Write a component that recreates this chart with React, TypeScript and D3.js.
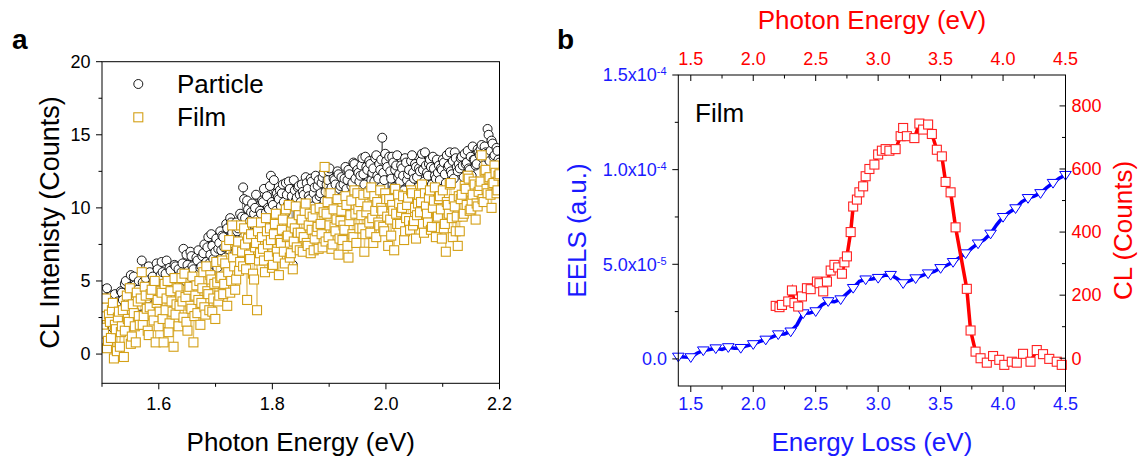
import React from "react";
import * as d3 from "d3";

const W = 1138;
const H = 456;
const FONT = "Arial, 'Liberation Sans', Helvetica, sans-serif";

// ---------- Panel a: CL spectra, particle vs film ----------
// Two interleaved channel sets: even channels start at 1.5 eV, odd ones half a step later.
const energyStart = 1.5; // eV
const energyStep = 0.0035; // eV per channel within one set
const oddOffset = 0.00175; // eV

const particleCounts = [
  3.2, 4.4, 2.1, 3.8, 2.6, 4.0, 3.1, 1.9, 3.6, 2.8,
  4.2, 3.0, 5.0, 3.5, 4.6, 2.9, 5.3, 3.9, 4.4, 3.3,
  6.4, 4.1, 5.2, 3.8, 5.6, 4.5, 5.0, 4.2, 5.8, 4.7,
  6.3, 4.8, 5.5, 4.4, 5.9, 5.1, 4.6, 6.0, 5.3, 4.9,
  5.6, 7.2, 5.0, 6.1, 5.4, 6.7, 5.8, 4.9, 6.4, 5.5,
  6.0, 6.9, 5.6, 7.3, 6.2, 8.2, 6.5, 7.0, 5.9, 7.6,
  7.1, 8.0, 6.6, 8.6, 7.4, 9.0, 7.8, 6.9, 8.4, 7.7,
  8.8, 11.4, 9.3, 10.5, 8.2, 9.7, 8.9, 10.0, 9.2, 8.5,
  9.6, 10.4, 9.0, 10.8, 9.9, 12.2, 10.2, 9.4, 11.0, 10.6,
  10.1, 11.6, 9.6, 10.9, 11.8, 10.3, 6.1, 11.2, 10.7, 11.5,
  10.4, 11.1, 9.9, 11.7, 10.8, 12.0, 10.1, 11.4, 10.6, 11.9,
  11.0, 12.1, 10.5, 11.6, 12.5, 11.2, 10.7, 11.9, 10.9, 12.3,
  11.5, 10.8, 12.0, 11.3, 12.6, 10.9, 11.7, 13.0, 11.1, 12.4,
  12.2, 13.4, 11.6, 12.8, 11.2, 13.0, 12.4, 11.8, 13.6, 12.0,
  12.6, 14.8, 11.9, 13.2, 10.7, 12.5, 13.5, 11.4, 12.9, 12.1,
  11.8, 12.7, 11.2, 13.1, 12.3, 11.6, 13.6, 12.0, 12.8, 11.4,
  12.5, 13.7, 11.8, 12.9, 12.2, 13.3, 11.6, 12.7, 12.0, 12.4,
  11.9, 12.6, 13.1, 11.7, 12.8, 13.8, 12.3, 12.0, 13.4, 12.5,
  12.7, 13.5, 12.1, 13.0, 13.9, 12.6, 12.2, 13.3, 12.9, 14.0,
  13.6, 14.3, 12.9, 13.8, 15.4, 13.2, 14.6, 13.5, 12.8, 13.9,
  13.1,
];

const particleCountsOdd = [
  2.4, 3.6, 4.5, 2.9, 3.3, 1.8, 4.1, 3.4, 2.2, 4.3,
  3.7, 4.8, 2.6, 4.0, 5.4, 3.4, 4.7, 3.1, 5.0, 4.1,
  4.9, 5.5, 3.6, 6.0, 4.4, 5.3, 3.9, 6.2, 4.8, 5.4,
  5.6, 4.3, 6.4, 5.0, 5.7, 4.7, 6.1, 5.2, 5.8, 4.5,
  6.2, 5.3, 6.8, 5.7, 7.0, 6.0, 5.1, 6.6, 7.1, 5.9,
  6.7, 7.5, 6.3, 8.0, 6.8, 7.4, 6.1, 7.9, 7.2, 8.4,
  8.1, 7.3, 8.9, 7.6, 9.3, 8.3, 7.5, 9.0, 8.6, 9.6,
  9.4, 10.6, 8.7, 9.9, 9.1, 10.3, 9.6, 10.9, 8.9, 9.8,
  10.5, 11.3, 9.7, 10.0, 11.5, 10.4, 11.9, 9.8, 10.7, 11.2,
  11.0, 10.4, 11.7, 10.2, 11.3, 10.8, 11.9, 10.5, 11.4, 10.9,
  11.6, 10.9, 12.1, 11.3, 10.6, 11.8, 11.0, 12.2, 11.5, 10.8,
  11.7, 12.4, 11.1, 11.9, 12.7, 11.4, 12.0, 11.6, 12.5, 11.3,
  12.1, 11.6, 12.8, 11.9, 12.3, 11.5, 13.1, 12.0, 12.6, 11.8,
  12.9, 12.3, 13.5, 12.6, 13.2, 11.9, 12.7, 13.4, 12.2, 13.0,
  13.3, 12.4, 13.7, 12.8, 13.5, 12.0, 13.1, 12.6, 13.6, 12.3,
  12.9, 12.2, 13.4, 11.9, 12.6, 13.2, 12.4, 13.0, 12.1, 12.7,
  13.2, 12.6, 13.8, 12.4, 13.0, 12.8, 13.5, 12.2, 13.3, 12.9,
  12.7, 13.3, 12.3, 13.6, 12.9, 12.5, 13.2, 13.8, 12.8, 13.0,
  13.4, 12.9, 13.7, 13.1, 12.7, 13.5, 14.2, 13.3, 13.0, 13.8,
  14.0, 13.4, 14.2, 13.7, 15.0, 13.9, 14.4, 13.6, 14.1, 13.3,
];

const filmCounts = [
  2.6, 1.4, 3.8, 0.9, 2.2, 3.0, -0.3, 1.7, 2.5, 0.5,
  1.9, -0.2, 3.3, 2.4, 4.5, 1.2, 2.8, 0.8, 3.6, 2.0,
  5.6, 2.6, 4.0, 1.6, 3.2, 4.4, 2.3, 0.8, 3.7, 2.9,
  4.2, 0.8, 3.0, 5.0, 2.1, 3.6, 0.5, 2.7, 4.5, 3.3,
  5.2, 2.5, 3.9, 1.6, 4.6, 3.1, 0.8, 4.0, 2.8, 5.0,
  3.5, 5.6, 2.7, 4.3, 3.0, 5.1, 3.8, 2.4, 4.9, 4.0,
  5.3, 4.1, 6.2, 3.3, 7.8, 5.0, 6.6, 4.4, 7.1, 5.7,
  8.8, 6.0, 7.5, 3.7, 6.8, 8.2, 5.5, 7.3, 3.0, 6.4,
  9.0, 7.2, 5.6, 8.4, 6.7, 7.8, 6.1, 8.9, 7.0, 5.4,
  7.6, 9.2, 6.2, 8.0, 10.2, 6.9, 5.8, 8.6, 7.3, 9.5,
  8.3, 7.0, 9.8, 7.6, 8.8, 6.9, 9.4, 7.9, 8.4, 7.2,
  8.9, 7.3, 12.8, 9.6, 8.0, 11.0, 7.5, 8.7, 9.2, 6.8,
  9.1, 7.8, 8.5, 10.2, 6.6, 9.5, 8.2, 11.2, 7.6, 9.9,
  10.4, 8.6, 7.0, 9.7, 11.0, 8.3, 9.3, 10.8, 8.0, 9.0,
  11.2, 9.8, 8.4, 10.6, 7.4, 9.2, 10.2, 7.1, 9.6, 10.9,
  8.9, 10.0, 7.8, 9.3, 10.7, 8.5, 11.0, 9.1, 7.9, 10.3,
  9.7, 11.6, 8.3, 10.1, 9.0, 11.2, 8.7, 10.5, 8.0, 9.4,
  10.8, 7.9, 8.6, 7.0, 10.2, 11.6, 9.3, 10.6, 8.4, 7.4,
  8.4, 10.9, 9.6, 11.3, 12.2, 9.8, 10.5, 11.8, 9.2, 10.1,
  11.5, 13.6, 10.4, 12.6, 11.0, 12.1, 10.0, 11.7, 12.4, 11.2,
  12.3,
];

const filmCountsOdd = [
  1.8, 3.2, 0.4, 2.7, 1.1, 3.5, 2.0, 0.2, 2.9, 1.5,
  3.0, 1.6, 4.0, 2.2, 0.7, 3.4, 1.9, 4.2, 2.6, 3.8,
  2.0, 4.6, 3.1, 1.3, 4.1, 2.7, 5.0, 3.5, 1.9, 4.3,
  2.4, 4.8, 3.8, 1.5, 4.3, 2.9, 5.2, 3.4, 1.9, 4.0,
  3.6, 5.5, 2.2, 4.4, 3.3, 5.3, 2.6, 4.7, 3.7, 2.0,
  4.5, 3.2, 6.0, 4.1, 5.4, 2.9, 4.8, 6.3, 3.6, 5.2,
  6.4, 4.8, 7.4, 5.6, 4.2, 8.8, 6.0, 5.1, 7.7, 6.3,
  7.0, 8.6, 5.8, 7.9, 6.5, 9.0, 5.1, 7.6, 8.4, 6.9,
  8.0, 6.4, 9.3, 7.5, 8.6, 5.9, 8.2, 9.6, 6.6, 7.8,
  8.5, 7.0, 9.9, 8.1, 6.6, 9.0, 7.7, 10.1, 8.3, 7.1,
  9.2, 8.0, 10.3, 7.4, 9.6, 8.5, 7.1, 9.9, 8.7, 10.0,
  8.2, 9.7, 7.7, 10.4, 8.8, 7.2, 9.9, 8.4, 10.6, 7.9,
  9.8, 8.8, 10.8, 7.4, 9.1, 10.5, 8.0, 9.6, 11.0, 8.6,
  9.5, 10.9, 8.2, 10.1, 9.0, 11.4, 7.6, 9.8, 10.4, 8.8,
  10.0, 8.7, 11.0, 9.4, 10.6, 8.1, 9.8, 11.3, 8.9, 10.3,
  9.7, 10.8, 8.4, 10.2, 9.1, 11.2, 8.8, 10.0, 9.5, 10.9,
  10.4, 8.9, 11.0, 9.6, 10.7, 8.5, 10.0, 11.4, 9.3, 10.6,
  9.9, 11.2, 8.9, 10.4, 9.6, 11.7, 8.0, 10.1, 9.4, 10.8,
  10.6, 9.4, 11.5, 10.2, 12.0, 9.9, 10.9, 11.6, 10.3, 11.1,
  11.8, 10.6, 12.5, 11.3, 12.0, 10.9, 11.6, 12.9, 11.0, 12.2,
];

const aXMajor = [1.6, 1.8, 2.0, 2.2];
const aXMinor = [1.5, 1.7, 1.9, 2.1];
const aYMajor = [0, 5, 10, 15, 20];
const aYMinor = [2.5, 7.5, 12.5, 17.5];

// ---------- Panel b: EELS and CL of the film ----------
const eelsEnergy = [
  1.40, 1.45, 1.50, 1.55, 1.60, 1.65, 1.70, 1.75, 1.80, 1.85,
  1.90, 1.95, 2.00, 2.05, 2.10, 2.15, 2.20, 2.25, 2.30, 2.35,
  2.40, 2.45, 2.50, 2.55, 2.60, 2.65, 2.70, 2.75, 2.80, 2.85,
  2.90, 2.95, 3.00, 3.05, 3.10, 3.15, 3.20, 3.25, 3.30, 3.35,
  3.40, 3.45, 3.50, 3.55, 3.60, 3.65, 3.70, 3.75, 3.80, 3.85,
  3.90, 3.95, 4.00, 4.05, 4.10, 4.15, 4.20, 4.25, 4.30, 4.35,
  4.40, 4.45, 4.50,
];
// EELS intensity in units of 1e-5
const eelsSignal = [
  0.12, 0.10, 0.09, 0.30, 0.45, 0.50, 0.56, 0.50, 0.62, 0.56,
  0.58, 0.70, 0.78, 0.92, 1.02, 1.15, 1.30, 1.32, 1.45, 1.80,
  2.41, 2.42, 2.52, 2.85, 3.05, 3.02, 3.15, 3.45, 3.75, 4.10,
  4.20, 4.22, 4.28, 4.42, 4.44, 4.25, 4.00, 4.12, 4.26, 4.40,
  4.52, 4.62, 4.80, 4.95, 5.12, 5.35, 5.58, 5.85, 6.10, 6.30,
  6.62, 7.10, 7.50, 7.75, 7.96, 8.30, 8.50, 8.60, 8.76, 9.05,
  9.30, 9.55, 9.72,
];

const clEnergy = [
  2.18, 2.21, 2.23, 2.28, 2.31, 2.33, 2.36, 2.39, 2.43, 2.46,
  2.51, 2.53, 2.56, 2.59, 2.62, 2.65, 2.68, 2.71, 2.73, 2.75,
  2.78, 2.80, 2.83, 2.85, 2.88, 2.90, 2.93, 2.97, 3.00, 3.03,
  3.06, 3.09, 3.14, 3.18, 3.20, 3.23, 3.29, 3.33, 3.36, 3.40,
  3.43, 3.47, 3.51, 3.54, 3.58, 3.62, 3.71, 3.74, 3.78, 3.82,
  3.87, 3.92, 3.97, 4.01, 4.07, 4.11, 4.16, 4.22, 4.27, 4.32,
  4.37, 4.43, 4.47,
];
const clCounts = [
  166, 162, 169, 180, 215, 175, 164, 196, 222, 219,
  243, 238, 212, 243, 278, 296, 288, 268, 304, 323,
  400, 481, 503, 526, 545, 577, 600, 614, 646, 658,
  663, 658, 663, 704, 730, 704, 698, 744, 725, 741,
  711, 661, 640, 559, 526, 415, 220, 88, 21, 0,
  -14, 7, -5, -21, -11, -14, 14, -11, 26, 13,
  -2, -11, -21,
];
const clTailEnergy = 4.5;
const clTailCounts = -32;

const bXMajor = [1.5, 2.0, 2.5, 3.0, 3.5, 4.0, 4.5];
const bXMinor = [1.75, 2.25, 2.75, 3.25, 3.75, 4.25];
const eelsMajor = [
  { v: 0, m: "0.0", e: "" },
  { v: 5, m: "5.0x10", e: "-5" },
  { v: 10, m: "1.0x10", e: "-4" },
  { v: 15, m: "1.5x10", e: "-4" },
];
const eelsMinor = [2.5, 7.5, 12.5];
const clMajor = [0, 200, 400, 600, 800];
const clMinor = [100, 300, 500, 700];

const GOLD = "#d4a017";
const BLUE = "#0000ff";
const BLUE_TXT = "#1a1aff";
const RED = "#ff0000";

const MAJ = 6;
const MIN = 3.5;

function mergeChannels(even: number[], odd: number[]) {
  const pts: number[][] = [];
  even.forEach((c, i) => {
    pts.push([energyStart + i * energyStep, c]);
    if (i < odd.length) pts.push([energyStart + oddOffset + i * energyStep, odd[i]]);
  });
  return pts;
}

function PanelA() {
  const x = d3.scaleLinear().domain([1.5, 2.2]).range([102, 499.5]);
  const y = d3.scaleLinear().domain([-2, 20]).range([383.3, 61.7]);
  const [x0, x1] = x.range();
  const [y0, y1] = y.range();

  const particle = mergeChannels(particleCounts, particleCountsOdd);
  const film = mergeChannels(filmCounts, filmCountsOdd);
  const line = d3
    .line<number[]>()
    .x((d) => x(d[0]))
    .y((d) => y(d[1]));

  return (
    <g>
      <text x={12} y={49} fontFamily={FONT} fontWeight="bold" fontSize={28}>
        a
      </text>
      <defs>
        <clipPath id="clipA">
          <rect x={x0} y={y1} width={x1 - x0} height={y0 - y1} />
        </clipPath>
      </defs>
      <g clipPath="url(#clipA)">
        <path d={line(particle) || ""} fill="none" stroke="#000" strokeWidth={0.5} />
        {particle.map((d, i) => (
          <circle key={"p" + i} cx={x(d[0])} cy={y(d[1])} r={4.5} fill="#fff" stroke="#000" strokeWidth={0.9} />
        ))}
        <path d={line(film) || ""} fill="none" stroke={GOLD} strokeWidth={0.5} />
        {film.map((d, i) => (
          <rect
            key={"f" + i}
            x={x(d[0]) - 4.5}
            y={y(d[1]) - 4.5}
            width={9}
            height={9}
            fill="#fff"
            stroke={GOLD}
            strokeWidth={1.1}
          />
        ))}
      </g>
      {/* frame */}
      <rect x={x0} y={y1} width={x1 - x0} height={y0 - y1} fill="none" stroke="#000" strokeWidth={1} />
      {/* bottom axis ticks */}
      {aXMajor.map((t) => (
        <g key={"xm" + t}>
          <line x1={x(t)} x2={x(t)} y1={y0} y2={y0 + MAJ} stroke="#000" />
          <text x={x(t)} y={409.5} textAnchor="middle" fontFamily={FONT} fontSize={18}>
            {t.toFixed(1)}
          </text>
        </g>
      ))}
      {aXMinor.map((t) => (
        <line key={"xn" + t} x1={x(t)} x2={x(t)} y1={y0} y2={y0 + MIN} stroke="#000" />
      ))}
      {/* left axis ticks */}
      {aYMajor.map((t) => (
        <g key={"ym" + t}>
          <line x1={x0 - MAJ} x2={x0} y1={y(t)} y2={y(t)} stroke="#000" />
          <text x={90.5} y={y(t)} dy="0.35em" textAnchor="end" fontFamily={FONT} fontSize={18}>
            {t}
          </text>
        </g>
      ))}
      {aYMinor.map((t) => (
        <line key={"yn" + t} x1={x0 - MIN} x2={x0} y1={y(t)} y2={y(t)} stroke="#000" />
      ))}
      <text x={(x0 + x1) / 2} y={450.5} textAnchor="middle" fontFamily={FONT} fontSize={26}>
        Photon Energy (eV)
      </text>
      <text
        transform={`translate(59,${(y0 + y1) / 2}) rotate(-90)`}
        textAnchor="middle"
        fontFamily={FONT}
        fontSize={27}
      >
        CL Intenisty (Counts)
      </text>
      {/* legend */}
      <circle cx={138.3} cy={84} r={4.5} fill="#fff" stroke="#000" strokeWidth={0.9} />
      <text x={177} y={92.5} fontFamily={FONT} fontSize={26}>
        Particle
      </text>
      <rect x={133.8} y={112.8} width={9} height={9} fill="#fff" stroke={GOLD} strokeWidth={1.1} />
      <text x={177} y={125.5} fontFamily={FONT} fontSize={26}>
        Film
      </text>
    </g>
  );
}

function PanelB() {
  const x = d3.scaleLinear().domain([1.4, 4.5]).range([678.3, 1065.5]);
  const yE = d3.scaleLinear().domain([-1.43, 15]).range([386, 75]);
  const yC = d3.scaleLinear().domain([-88, 898]).range([386, 75]);
  const [x0, x1] = x.range();
  const [y0, y1] = yE.range();

  const eelsPts = eelsEnergy.map((e, i) => [e, eelsSignal[i]]);
  const clPts = clEnergy.map((e, i) => [e, clCounts[i]]);
  const clLinePts = [...clPts, [clTailEnergy, clTailCounts]];

  const eelsLine = d3
    .line<number[]>()
    .x((d) => x(d[0]))
    .y((d) => yE(d[1]));
  const clLine = d3
    .line<number[]>()
    .x((d) => x(d[0]))
    .y((d) => yC(d[1]));

  const tri = (cx: number, cy: number) => {
    const s = 5.8;
    return `M${cx - s},${cy - s * 0.6}L${cx + s},${cy - s * 0.6}L${cx},${cy + s * 0.9}Z`;
  };

  return (
    <g>
      <text x={557} y={49} fontFamily={FONT} fontWeight="bold" fontSize={28}>
        b
      </text>
      <defs>
        <clipPath id="clipB">
          <rect x={x0} y={y1} width={x1 - x0} height={y0 - y1} />
        </clipPath>
      </defs>
      {/* EELS */}
      <path d={eelsLine(eelsPts) || ""} fill="none" stroke={BLUE} strokeWidth={3.5} clipPath="url(#clipB)" />
      {eelsPts
        .filter((_, i) => i % 2 === 0)
        .map((d, i) => (
          <path key={"t" + i} d={tri(x(d[0]), yE(d[1]))} fill="#fff" stroke={BLUE} strokeWidth={1} />
        ))}
      {/* CL */}
      <path d={clLine(clLinePts) || ""} fill="none" stroke={RED} strokeWidth={3.5} clipPath="url(#clipB)" />
      {clPts.map((d, i) => (
        <rect
          key={"s" + i}
          x={x(d[0]) - 4.5}
          y={yC(d[1]) - 4.5}
          width={9}
          height={9}
          fill="#fff"
          stroke="#f22"
          strokeWidth={1.1}
        />
      ))}
      <text x={695} y={121.5} fontFamily={FONT} fontSize={26}>
        Film
      </text>
      {/* frame */}
      <rect x={x0} y={y1} width={x1 - x0} height={y0 - y1} fill="none" stroke="#000" strokeWidth={1} />
      {/* bottom axis: energy loss */}
      {bXMajor.map((t) => (
        <g key={"bm" + t}>
          <line x1={x(t)} x2={x(t)} y1={y0} y2={y0 + MAJ} stroke="#000" />
          <text x={x(t)} y={409.5} textAnchor="middle" fontFamily={FONT} fontSize={18} fill={BLUE_TXT}>
            {t.toFixed(1)}
          </text>
        </g>
      ))}
      {bXMinor.map((t) => (
        <line key={"bn" + t} x1={x(t)} x2={x(t)} y1={y0} y2={y0 + MIN} stroke="#000" />
      ))}
      {/* top axis: photon energy */}
      {bXMajor.map((t) => (
        <g key={"tm" + t}>
          <line x1={x(t)} x2={x(t)} y1={y1} y2={y1 + MAJ} stroke="#000" />
          <text x={x(t)} y={64.5} textAnchor="middle" fontFamily={FONT} fontSize={18} fill={RED}>
            {t.toFixed(1)}
          </text>
        </g>
      ))}
      {bXMinor.map((t) => (
        <line key={"tn" + t} x1={x(t)} x2={x(t)} y1={y1} y2={y1 + MIN} stroke="#000" />
      ))}
      {/* left axis: EELS */}
      {eelsMajor.map((t) => (
        <g key={"lm" + t.v}>
          <line x1={x0 - MAJ} x2={x0} y1={yE(t.v)} y2={yE(t.v)} stroke="#000" />
          <text
            x={t.e ? 666.5 : 667}
            y={yE(t.v)}
            dy="0.35em"
            textAnchor="end"
            fontFamily={FONT}
            fontSize={18}
            fill={BLUE_TXT}
          >
            {t.m}
            {t.e && (
              <tspan dy="-0.55em" fontSize={11}>
                {t.e}
              </tspan>
            )}
          </text>
        </g>
      ))}
      {eelsMinor.map((t) => (
        <line key={"ln" + t} x1={x0 - MIN} x2={x0} y1={yE(t)} y2={yE(t)} stroke="#000" />
      ))}
      {/* right axis: CL counts */}
      {clMajor.map((t) => (
        <g key={"rm" + t}>
          <line x1={x1 - MAJ} x2={x1} y1={yC(t)} y2={yC(t)} stroke="#000" />
          <text x={1071.5} y={yC(t)} dy="0.35em" fontFamily={FONT} fontSize={18} fill={RED}>
            {t}
          </text>
        </g>
      ))}
      {clMinor.map((t) => (
        <line key={"rn" + t} x1={x1 - MIN} x2={x1} y1={yC(t)} y2={yC(t)} stroke="#000" />
      ))}
      {/* titles */}
      <text x={(x0 + x1) / 2} y={450.5} textAnchor="middle" fontFamily={FONT} fontSize={26} fill={BLUE_TXT}>
        Energy Loss (eV)
      </text>
      <text x={(x0 + x1) / 2} y={29} textAnchor="middle" fontFamily={FONT} fontSize={26} fill={RED}>
        Photon Energy (eV)
      </text>
      <text
        transform={`translate(586,${(y0 + y1) / 2}) rotate(-90)`}
        textAnchor="middle"
        fontFamily={FONT}
        fontSize={26}
        fill={BLUE_TXT}
      >
        EELS (a.u.)
      </text>
      <text
        transform={`translate(1132,${(y0 + y1) / 2}) rotate(-90)`}
        textAnchor="middle"
        fontFamily={FONT}
        fontSize={26}
        fill={RED}
      >
        CL (Counts)
      </text>
    </g>
  );
}

export default function App() {
  return (
    <>
      <style>{`body{margin:0}`}</style>
      <svg width={W} height={H} viewBox={`0 0 ${W} ${H}`} style={{ display: "block", background: "#fff" }}>
        <PanelA />
        <PanelB />
      </svg>
    </>
  );
}
